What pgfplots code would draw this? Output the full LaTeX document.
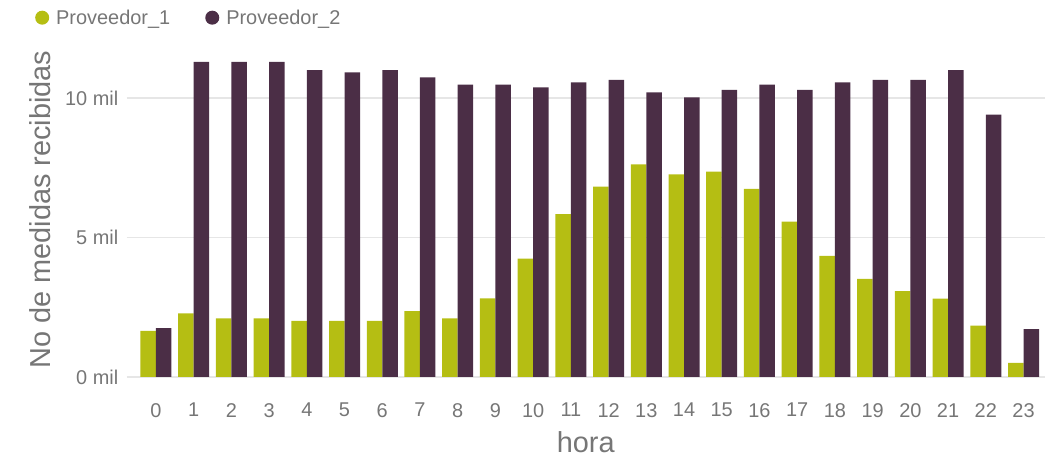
\documentclass[border=0pt]{standalone}
\usepackage{pgfplots}
\pgfplotsset{compat=1.18}
\usepackage{fontspec}
\setmainfont{Liberation Sans}
\definecolor{pA}{HTML}{B5BE13}
\definecolor{pB}{HTML}{4B2E46}
\definecolor{txt}{HTML}{767676}
\definecolor{grd}{HTML}{E6E6E6}
\begin{document}
\begin{tikzpicture}[x=1bp,y=1bp]
\useasboundingbox (0,0) rectangle (1056,457);
\begin{axis}[
  at={(126.5bp,80bp)}, anchor=south west,
  scale only axis, width=918.5bp, height=334.8bp,
  xmin=-0.78, xmax=23.57, ymin=0, ymax=12000,
  scaled y ticks=false,
  ybar=0pt, bar width=15.5bp,
  axis line style={draw=none},
  major tick length=0pt,
  ytick={0,5000,10000}, yticklabels={0 mil,5 mil,10 mil},
  xtick={0,...,23},
  xticklabels={0,1,2,3,4,5,6,7,8,9,10,11,12,13,14,15,16,17,18,19,20,21,22,23},
  ymajorgrids, grid style={draw=grd, line width=1.2bp},
  tick label style={font=\fontsize{20}{24}\selectfont, text=txt},
  yticklabel style={inner sep=0pt, xshift=-8bp},
  xticklabel style={inner sep=0pt, yshift=-26bp},
  xlabel={hora},
  xlabel style={at={([yshift=-76bp]axis description cs:0.5,0)}, anchor=base, font=\fontsize{29}{34}\selectfont, text=txt},
  ylabel={No de medidas recibidas},
  ylabel style={at={([xshift=-76.5bp]axis description cs:0,0.5)}, anchor=base, font=\fontsize{29}{34}\selectfont, text=txt},
  legend columns=2,
  legend image code/.code={\fill[#1] (7bp,0bp) circle (7bp);},
  legend style={at={([xshift=-91.5bp,yshift=24.5bp]axis description cs:0,1)}, anchor=west, draw=none, fill=none, inner sep=0pt,
    font=\fontsize{20}{24}\selectfont, text=txt,
    /tikz/every even column/.append style={column sep=33bp},
    /tikz/every odd column/.append style={column sep=5bp}},
]
\addplot[fill=pA, draw=none] coordinates {
(0,1650) (1,2280) (2,2100) (3,2100) (4,2010) (5,2010) (6,2010) (7,2360) (8,2100) (9,2820) (10,4240) (11,5840)
(12,6820) (13,7620) (14,7260) (15,7360) (16,6740) (17,5570) (18,4340) (19,3520) (20,3080) (21,2810) (22,1840) (23,510)};
\addplot[fill=pB, draw=none] coordinates {
(0,1750) (1,11290) (2,11290) (3,11290) (4,11000) (5,10920) (6,11000) (7,10740) (8,10480) (9,10480) (10,10380) (11,10560)
(12,10650) (13,10200) (14,10020) (15,10290) (16,10480) (17,10290) (18,10560) (19,10650) (20,10650) (21,11000) (22,9400) (23,1720)};
\legend{Proveedor\_1, Proveedor\_2}
\end{axis}
\end{tikzpicture}
\end{document}
